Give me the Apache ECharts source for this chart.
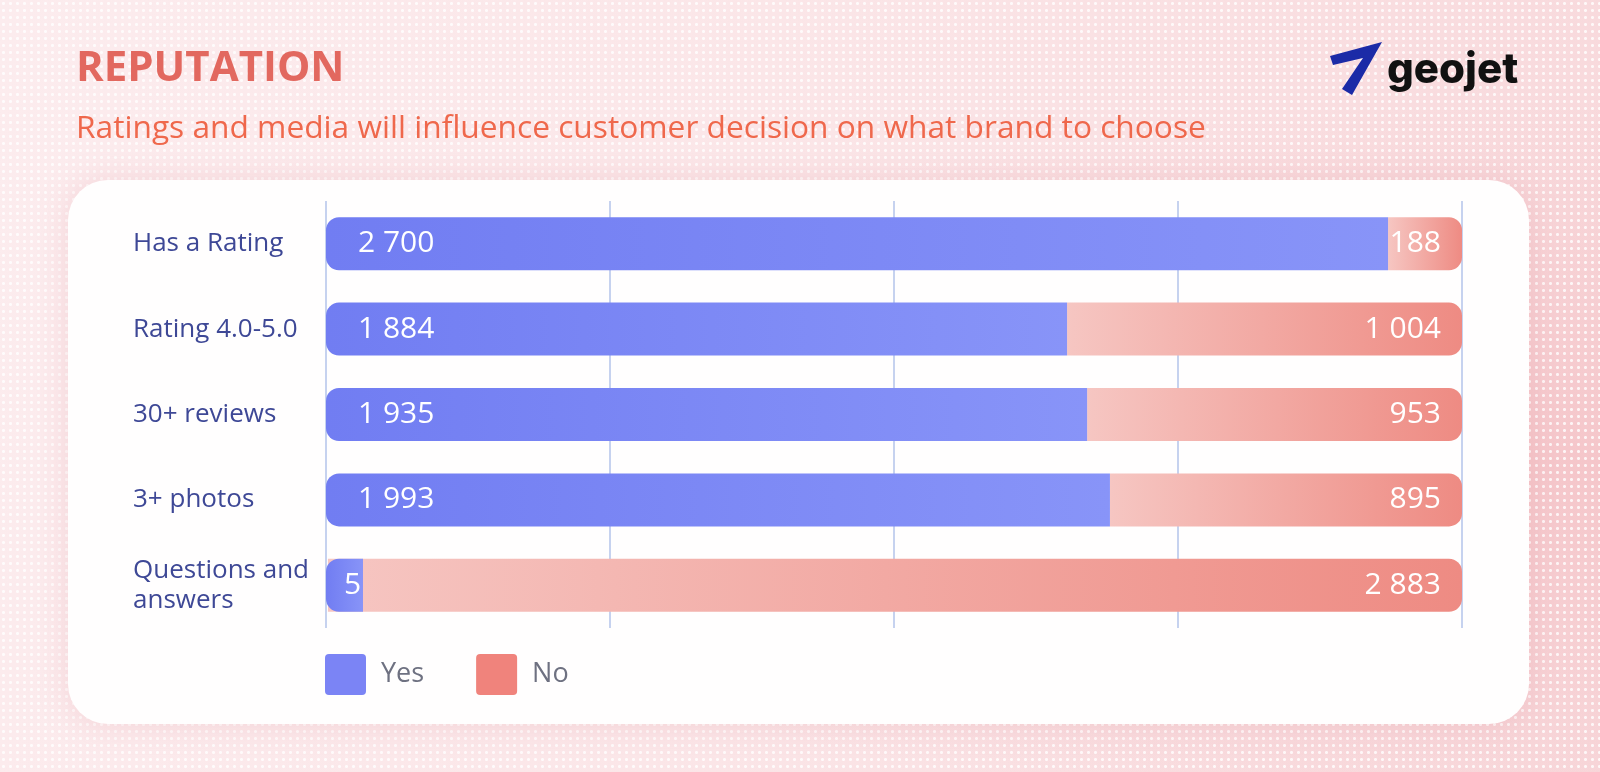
<!DOCTYPE html>
<html>
<head>
<meta charset="utf-8">
<script src="https://cdn.jsdelivr.net/npm/echarts@6/dist/echarts.min.js"></script>
<style>
  html, body { margin: 0; padding: 0; width: 1600px; height: 772px; overflow: hidden; }
  body {
    background:
      radial-gradient(circle at 3.5px 3.5px, rgba(255,255,255,0.8) 1.2px, rgba(255,255,255,0) 1.8px) 0 0 / 7px 7px,
      radial-gradient(ellipse at 100% 60%, #f5c6ca 0%, rgba(245,198,202,0) 55%),
      linear-gradient(100deg, #fcecee 0%, #fbe6e8 45%, #f8d8db 100%);
  }
  #chart { width: 1600px; height: 772px; }
</style>
</head>
<body>
<div id="chart"></div>
<script>
// ---- data ----
const categories = ['Has a Rating', 'Rating 4.0-5.0', '30+ reviews', '3+ photos', 'Questions and answers'];
const yesValues = [2700, 1884, 1935, 1993, 5];
const noValues = [188, 1004, 953, 895, 2883];
const seriesNames = ['Yes', 'No'];
const axisMin = 0;
const axisMax = 2888;
const axisStep = 722;

const fmt = v => String(v).replace(/\B(?=(\d{3})+(?!\d))/g, ' ');

const chart = echarts.init(document.getElementById('chart'), null, { renderer: 'canvas' });

const yesData = yesValues.map(v => v < 100 ? { value: v, label: { distance: 18 } } : v);

const option = {
  backgroundColor: 'transparent',
  animation: false,
  title: [
    {
      text: 'REPUTATION', left: 71, top: 41,
      textStyle: { fontFamily: 'Open Sans', fontWeight: 700, fontSize: 42, lineHeight: 46, color: '#e2685f' }
    },
    {
      text: 'Ratings and media will influence customer decision on what brand to choose', left: 71, top: 106,
      textStyle: { fontFamily: 'Open Sans', fontWeight: 500, fontSize: 31.7, lineHeight: 36, color: '#ef684c' }
    }
  ],
  graphic: [
    {
      type: 'rect', z: -10, silent: true,
      shape: { x: 68, y: 180, width: 1461, height: 544, r: 40 },
      style: { fill: '#fffefe', shadowBlur: 30, shadowColor: 'rgba(225,140,150,0.25)' }
    },
    {
      type: 'polygon', silent: true,
      shape: { points: [[1330, 56], [1382, 42], [1352, 95], [1342, 89], [1363, 58], [1333, 65]] },
      style: { fill: '#1b2ba7' }
    },
    {
      type: 'text', silent: true,
      style: { x: 1387, y: 70, text: 'geojet', fill: '#111111', font: '800 42px Inter', verticalAlign: 'middle' }
    }
  ],
  legend: {
    left: 320, top: 649,
    itemWidth: 41, itemHeight: 41, itemGap: 52,
    icon: 'path://M4,0H37A4,4,0,0,1,41,4V37A4,4,0,0,1,37,41H4A4,4,0,0,1,0,37V4A4,4,0,0,1,4,0Z',
    textStyle: { fontFamily: 'Open Sans', fontSize: 27, color: '#6e7181', padding: [0, 0, 0, 10] },
    data: [
      { name: seriesNames[0], itemStyle: { color: '#7b84f5' } },
      { name: seriesNames[1], itemStyle: { color: '#f0837c' } }
    ]
  },
  grid: { left: 326, right: 138, top: 201, height: 427, containLabel: false },
  xAxis: {
    type: 'value', min: axisMin, max: axisMax, interval: axisStep,
    axisLabel: { show: false }, axisLine: { show: false }, axisTick: { show: false },
    splitLine: { show: true, lineStyle: { color: '#c6d2ef', width: 2 } }
  },
  yAxis: {
    type: 'category', inverse: true, data: categories,
    axisLine: { show: false }, axisTick: { show: false },
    axisLabel: {
      align: 'left', margin: 193, width: 185, overflow: 'break',
      fontFamily: 'Open Sans', fontWeight: 500, fontSize: 26, lineHeight: 30, color: '#3e4896'
    }
  },
  series: [
    {
      name: seriesNames[0], type: 'bar', stack: 'total', barWidth: 53, barMinHeight: 37, z: 3,
      itemStyle: {
        borderRadius: [13, 0, 0, 13],
        color: new echarts.graphic.LinearGradient(0, 0, 1, 0, [
          { offset: 0, color: '#717df2' }, { offset: 1, color: '#8894f8' }
        ])
      },
      label: {
        show: true, position: 'insideLeft', distance: 32,
        fontFamily: 'Open Sans', fontSize: 30, color: '#ffffff',
        formatter: p => fmt(p.value)
      },
      data: yesData
    },
    {
      name: seriesNames[1], type: 'bar', stack: 'total', barWidth: 53, z: 2,
      itemStyle: {
        borderRadius: [0, 13, 13, 0],
        color: new echarts.graphic.LinearGradient(0, 0, 1, 0, [
          { offset: 0, color: '#f6c6c2' }, { offset: 1, color: '#ee8b83' }
        ])
      },
      label: {
        show: true, position: 'insideRight', distance: 21,
        fontFamily: 'Open Sans', fontSize: 30, color: '#ffffff',
        formatter: p => fmt(p.value)
      },
      data: noValues
    }
  ]
};
chart.setOption(option);
</script>
</body>
</html>
